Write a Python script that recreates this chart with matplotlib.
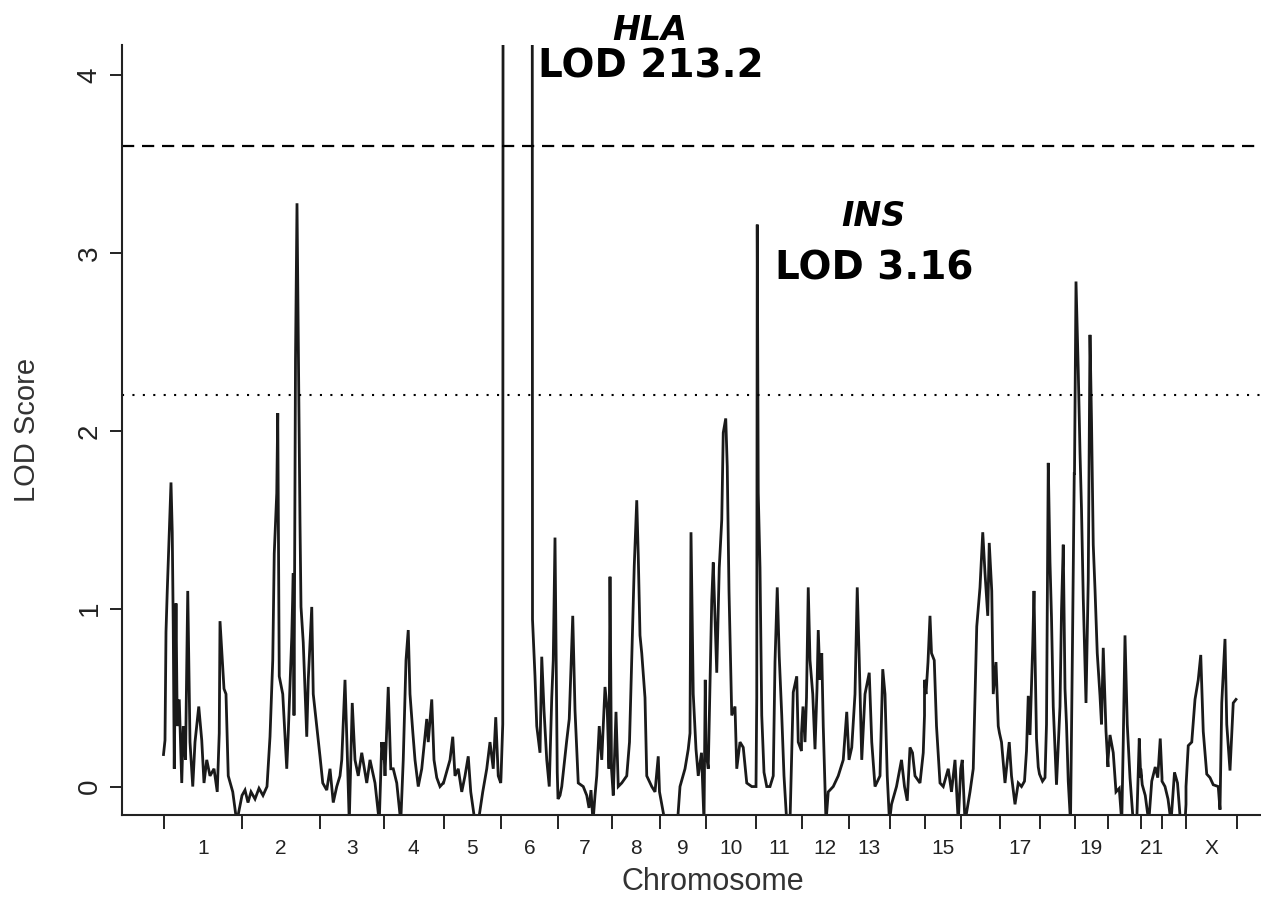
import numpy as np
import matplotlib.pyplot as plt

plt.rcParams['font.family'] = ['Liberation Sans', 'DejaVu Sans']

CHROMS = [str(i) for i in range(1, 23)] + ['X']
LENGTHS = [314, 312, 254, 240, 230, 228, 214, 192, 186, 200, 182, 190,
           162, 140, 145, 155, 160, 140, 134, 131, 85, 96, 204]
SHOWN = ['1', '2', '3', '4', '5', '6', '7', '8', '9', '10', '11', '12',
         '13', '15', '17', '19', '21', 'X']

SIGNIFICANT = 3.6
SUGGESTIVE = 2.2

# LOD scan, position in cM from the start of each chromosome
chr1_pos = [0, 6, 10, 15, 30, 35, 39, 43, 50, 55, 63, 73, 79, 88, 97, 106,
            117, 126, 141, 153, 162, 173, 186, 202, 215, 223, 226, 242, 250,
            259, 277, 293, 314]
chr1_lod = [0.18, 0.26, 0.87, 1.1, 1.71, 1.43, 0.9, 0.1, 1.03, 0.34, 0.49,
            0.02, 0.34, 0.15, 1.1, 0.25, 0.0, 0.25, 0.45, 0.26, 0.02, 0.15,
            0.06, 0.1, -0.03, 0.3, 0.93, 0.55, 0.52, 0.06, -0.03, -0.2, -0.05]

chr2_pos = [0, 12, 24, 36, 52, 68, 84, 100, 112, 123, 129, 139, 143, 149,
            163, 179, 185, 199, 205, 208, 214, 220, 232, 236, 245, 259, 265,
            279, 285, 299, 312]
chr2_lod = [-0.05, -0.02, -0.09, -0.03, -0.07, -0.01, -0.05, 0.0, 0.28, 0.71,
            1.31, 1.65, 2.1, 0.62, 0.52, 0.1, 0.3, 0.84, 1.2, 0.4, 2.4, 3.28,
            1.48, 1.01, 0.81, 0.28, 0.6, 1.01, 0.52, 0.34, 0.17]

chr3_pos = [0, 11, 27, 40, 53, 67, 80, 87, 100, 109, 117, 129, 140, 153, 167,
            187, 200, 220, 237, 247, 254]
chr3_lod = [0.17, 0.02, -0.02, 0.1, -0.09, 0.0, 0.06, 0.15, 0.6, 0.19, -0.2,
            0.47, 0.15, 0.06, 0.19, 0.02, 0.15, 0.02, -0.2, 0.25, 0.15]

chr4_pos = [0, 6, 19, 29, 39, 53, 69, 79, 90, 99, 106, 117, 126, 139, 153,
            173, 179, 193, 202, 213, 226, 239]
chr4_lod = [0.25, 0.06, 0.56, 0.1, 0.1, 0.02, -0.2, 0.15, 0.71, 0.88, 0.52,
            0.31, 0.15, 0.0, 0.1, 0.38, 0.25, 0.49, 0.15, 0.05, 0.0, 0.02]

chr5_pos = [0, 26, 37, 46, 59, 73, 86, 99, 109, 126, 139, 157, 173, 186, 199,
            209, 219, 229]
chr5_lod = [0.02, 0.15, 0.28, 0.06, 0.1, -0.03, 0.06, 0.17, -0.03, -0.2, -0.2,
            -0.03, 0.1, 0.25, 0.1, 0.39, 0.06, 0.02]

chr6_pos = [0, 7, 68, 126, 136, 143, 156, 163, 172, 183, 193, 203, 209, 216,
            225, 228]
chr6_lod = [0.05, 0.35, 213.2, 0.94, 0.62, 0.34, 0.19, 0.73, 0.43, 0.15, 0.0,
            0.5, 0.71, 1.4, 0.08, -0.07]

chr7_pos = [0, 8, 15, 35, 45, 59, 68, 81, 101, 115, 124, 132, 140, 148, 155,
            165, 175, 188, 197, 204, 208, 214]
chr7_lod = [-0.07, -0.05, 0.0, 0.26, 0.38, 0.96, 0.43, 0.02, 0.0, -0.05,
            -0.12, -0.02, -0.2, -0.05, 0.06, 0.34, 0.15, 0.56, 0.43, 0.1, 1.18,
            0.1]

chr8_pos = [0, 7, 18, 27, 41, 61, 72, 81, 91, 101, 107, 114, 121, 134, 141,
            161, 174, 187, 192]
chr8_lod = [0.1, -0.05, 0.42, 0.0, 0.02, 0.06, 0.25, 0.71, 1.24, 1.61, 1.3,
            0.85, 0.75, 0.5, 0.06, 0.0, -0.03, 0.17, -0.03]

chr9_pos = [0, 22, 48, 72, 82, 102, 115, 122, 126, 135, 146, 155, 168, 178,
            183, 186]
chr9_lod = [-0.03, -0.2, -0.2, -0.2, 0.0, 0.1, 0.21, 0.3, 1.43, 0.52, 0.21,
            0.06, 0.19, -0.2, 0.6, 0.2]

chr10_pos = [0, 9, 23, 29, 36, 43, 53, 63, 69, 79, 85, 92, 103, 116, 123, 136,
             149, 163, 183, 200]
chr10_lod = [0.2, 0.1, 1.05, 1.26, 0.94, 0.64, 1.23, 1.5, 1.99, 2.07, 1.8, 1.1,
             0.4, 0.45, 0.1, 0.25, 0.22, 0.02, 0.0, 0.0]

chr11_pos = [0, 3, 5, 9, 16, 23, 32, 43, 56, 69, 76, 85, 93, 103, 112, 123,
             136, 149, 163, 169, 182]
chr11_lod = [0.0, 0.5, 3.16, 1.65, 1.23, 0.4, 0.08, 0.0, 0.0, 0.06, 0.7, 1.12,
             0.73, 0.4, 0.06, -0.2, -0.2, 0.53, 0.62, 0.25, 0.2]

chr12_pos = [0, 6, 14, 20, 27, 34, 45, 54, 62, 67, 74, 81, 87, 98, 107, 127,
             147, 167, 181, 190]
chr12_lod = [0.3, 0.45, 0.25, 0.5, 1.12, 0.71, 0.52, 0.21, 0.55, 0.88, 0.6,
             0.75, 0.34, -0.2, -0.03, 0.0, 0.06, 0.15, 0.42, 0.15]

chr13_pos = [0, 11, 24, 33, 41, 51, 64, 81, 91, 104, 124, 135, 144, 153, 162]
chr13_lod = [0.15, 0.22, 0.52, 1.12, 0.71, 0.15, 0.52, 0.64, 0.25, 0.0, 0.06,
             0.66, 0.52, 0.06, -0.2]

chr14_pos = [0, 8, 28, 48, 60, 71, 82, 92, 102, 122, 135, 140]
chr14_lod = [-0.2, -0.1, 0.0, 0.15, 0.0, -0.08, 0.22, 0.19, 0.06, 0.02, 0.19,
             0.4]

chr15_pos = [0, 6, 14, 22, 28, 39, 48, 62, 75, 95, 108, 122, 135, 145]
chr15_lod = [0.6, 0.52, 0.7, 0.96, 0.75, 0.71, 0.34, 0.02, 0.0, 0.1, -0.03,
             0.15, -0.2, 0.1]

chr16_pos = [0, 6, 17, 37, 50, 64, 77, 88, 97, 108, 114, 124, 130, 141, 150,
             155]
chr16_lod = [0.1, 0.15, -0.2, -0.03, 0.1, 0.9, 1.12, 1.43, 1.2, 0.96, 1.37,
             1.1, 0.52, 0.7, 0.34, 0.3]

chr17_pos = [0, 8, 22, 39, 48, 62, 75, 88, 100, 108, 115, 122, 133, 138, 142,
             148, 155, 160]
chr17_lod = [0.3, 0.25, 0.02, 0.25, 0.06, -0.1, 0.02, 0.0, 0.03, 0.2, 0.51,
             0.29, 0.8, 1.1, 0.75, 0.27, 0.11, 0.07]

chr18_pos = [0, 12, 22, 28, 35, 42, 48, 55, 68, 82, 88, 95, 102, 108, 115,
             124, 132, 139]
chr18_lod = [0.07, 0.03, 0.05, 0.35, 1.82, 1.26, 0.95, 0.45, 0.01, 0.45, 0.99,
             1.36, 0.55, 0.35, 0.03, -0.2, 0.81, 1.76]

chr19_pos = [0, 6, 15, 22, 28, 35, 46, 55, 62, 68, 75, 82, 91, 102, 108, 115,
             126, 134]
chr19_lod = [1.76, 2.84, 2.34, 1.88, 1.56, 1.06, 0.47, 1.16, 2.54, 2.06, 1.36,
             1.11, 0.75, 0.51, 0.35, 0.78, 0.31, 0.11]

chr20_pos = [0, 8, 21, 32, 45, 55, 61, 68, 77, 88, 101, 115, 125, 131]
chr20_lod = [0.15, 0.29, 0.19, -0.03, -0.01, -0.2, 0.25, 0.85, 0.35, 0.05,
             -0.2, -0.2, 0.27, 0.05]

chr21_pos = [0, 6, 18, 32, 44, 58, 68, 78, 85]
chr21_lod = [0.1, 0.01, -0.05, -0.2, 0.03, 0.11, 0.05, 0.27, 0.05]

chr22_pos = [0, 12, 24, 36, 50, 62, 74, 92, 96]
chr22_lod = [0.03, 0.0, -0.07, -0.2, 0.08, 0.02, -0.2, -0.2, -0.1]

chrX_pos = [0, 9, 23, 36, 49, 59, 69, 83, 96, 109, 129, 136, 143, 156, 163,
            176, 189, 200]
chrX_lod = [0.0, 0.23, 0.25, 0.49, 0.6, 0.74, 0.31, 0.07, 0.05, 0.01, 0.0,
            -0.13, 0.47, 0.83, 0.35, 0.09, 0.47, 0.49]

POSITIONS = [chr1_pos, chr2_pos, chr3_pos, chr4_pos, chr5_pos, chr6_pos,
             chr7_pos, chr8_pos, chr9_pos, chr10_pos, chr11_pos, chr12_pos,
             chr13_pos, chr14_pos, chr15_pos, chr16_pos, chr17_pos, chr18_pos,
             chr19_pos, chr20_pos, chr21_pos, chr22_pos, chrX_pos]
LODS = [chr1_lod, chr2_lod, chr3_lod, chr4_lod, chr5_lod, chr6_lod, chr7_lod,
        chr8_lod, chr9_lod, chr10_lod, chr11_lod, chr12_lod, chr13_lod,
        chr14_lod, chr15_lod, chr16_lod, chr17_lod, chr18_lod, chr19_lod,
        chr20_lod, chr21_lod, chr22_lod, chrX_lod]

starts = np.concatenate([[0], np.cumsum(LENGTHS)[:-1]])
ends = starts + np.array(LENGTHS)
mids = (starts + ends) / 2

x = np.concatenate([s + np.array(p) for s, p in zip(starts, POSITIONS)])
y = np.concatenate([np.array(v) for v in LODS])

fig = plt.figure(figsize=(12.61, 8.97), dpi=100)
ax = fig.add_axes([122 / 1261, 82 / 897, 1139 / 1261, 770 / 897])

ax.plot(x, y, color='#1a1a1a', lw=2.0, solid_joinstyle='miter')
ax.axhline(SIGNIFICANT, color='black', lw=1.6, ls=(0, (5.5, 3.5)))
ax.axhline(SUGGESTIVE, color='black', lw=1.5, ls=(0, (1, 4)))

ax.set_xlim(-166, ends[-1] + 96)
ax.set_ylim(-0.16, 4.17)

for side in ('top', 'right'):
    ax.spines[side].set_visible(False)
for side in ('left', 'bottom'):
    ax.spines[side].set_linewidth(1.5)
    ax.spines[side].set_color('#222222')

ax.set_yticks(range(5))
ax.tick_params(axis='y', length=9, width=1.4, labelsize=20, pad=5,
               colors='#222222')
for lab in ax.get_yticklabels():
    lab.set_rotation(90)
    lab.set_va('center')

ax.set_xticks(np.concatenate([starts, [ends[-1]]]))
ax.set_xticklabels([])
ax.tick_params(axis='x', which='major', length=10, width=1.4, colors='#222222')
shown_mids = [m for c, m in zip(CHROMS, mids) if c in SHOWN]
ax.set_xticks(shown_mids, minor=True)
ax.set_xticklabels(SHOWN, minor=True)
ax.tick_params(axis='x', which='minor', length=0, labelsize=15, pad=17,
               labelcolor='#222222')

ax.set_ylabel('LOD Score', fontsize=21, color='#333333')
ax.yaxis.set_label_coords(-0.071, 0.5)
ax.set_xlabel('Chromosome', fontsize=22, color='#333333')
ax.xaxis.set_label_coords(0.519, -0.068)

note = dict(family='DejaVu Sans', weight='bold', color='black')
fig.text(650 / 1261, 1 - 31 / 897, 'HLA', ha='center', va='center',
         fontsize=24, style='italic', **note)
fig.text(538 / 1261, 1 - 66 / 897, 'LOD 213.2', ha='left', va='center',
         fontsize=28, **note)
fig.text(873 / 1261, 1 - 216 / 897, 'INS', ha='center', va='center',
         fontsize=24, style='italic', **note)
fig.text(775 / 1261, 1 - 268 / 897, 'LOD 3.16', ha='left', va='center',
         fontsize=28, **note)

fig.savefig('out.png', dpi=100)
